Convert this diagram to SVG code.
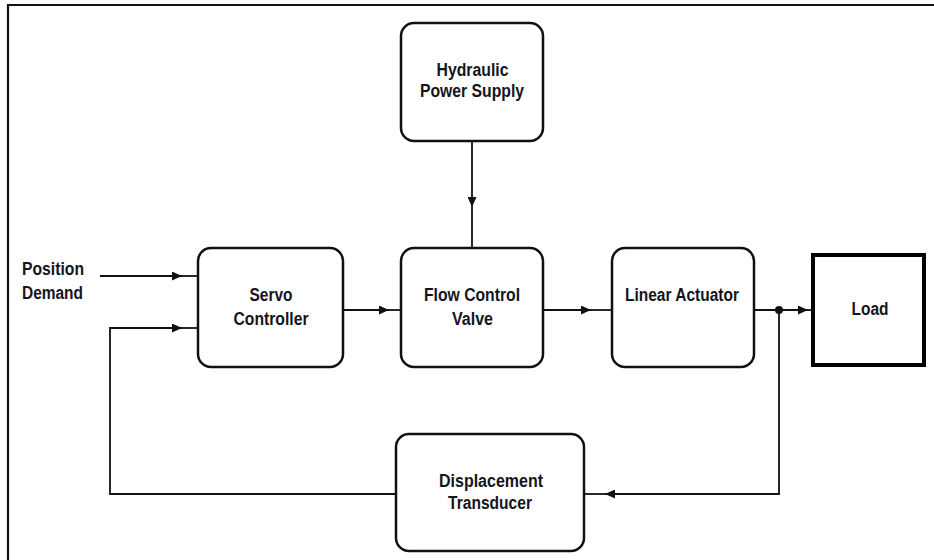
<svg xmlns="http://www.w3.org/2000/svg" width="934" height="560" viewBox="0 0 934 560">
<style>
.box{fill:#fff;stroke:#111;stroke-width:2.5}
.load{fill:#fff;stroke:#000;stroke-width:4}
.ln{fill:none;stroke:#111;stroke-width:1.8}
.t{font-family:"Liberation Sans",Arial,sans-serif;font-size:18px;font-weight:bold;fill:#151520;text-anchor:middle}
.tl{font-family:"Liberation Sans",Arial,sans-serif;font-size:18px;font-weight:bold;fill:#151520}
</style>
<defs>
<marker id="arr" viewBox="0 0 10 10" refX="10" refY="5" markerWidth="10" markerHeight="9" markerUnits="userSpaceOnUse" orient="auto" preserveAspectRatio="none">
<path d="M0,0 L10,5 L0,10 Z" fill="#111"/>
</marker>
</defs>
<rect width="934" height="560" fill="#fff"/>
<path d="M8,560 V5 H934" fill="none" stroke="#111" stroke-width="2.2"/>

<g id="connectors">
<line class="ln" x1="100" y1="276" x2="182" y2="276" marker-end="url(#arr)"/>
<line class="ln" x1="182" y1="276" x2="198" y2="276"/>
<polyline class="ln" points="396,494 110,494 110,328 182,328" marker-end="url(#arr)"/>
<line class="ln" x1="182" y1="328" x2="198" y2="328"/>
<line class="ln" x1="343" y1="310" x2="389" y2="310" marker-end="url(#arr)"/>
<line class="ln" x1="389" y1="310" x2="401" y2="310"/>
<line class="ln" x1="543" y1="310" x2="591" y2="310" marker-end="url(#arr)"/>
<line class="ln" x1="591" y1="310" x2="612" y2="310"/>
<line class="ln" x1="754" y1="310" x2="808" y2="310" marker-end="url(#arr)"/>
<line class="ln" x1="808" y1="310" x2="813" y2="310"/>
<line class="ln" x1="472" y1="141" x2="472" y2="207" marker-end="url(#arr)"/>
<line class="ln" x1="472" y1="207" x2="472" y2="249"/>
<polyline class="ln" points="779,310 779,494 605,494" marker-end="url(#arr)"/>
<line class="ln" x1="605" y1="494" x2="584" y2="494"/>
<circle cx="779" cy="310" r="4" fill="#111"/>
</g>

<g id="position-demand">
<text class="tl" x="22" y="275" textLength="62" lengthAdjust="spacingAndGlyphs">Position</text>
<text class="tl" x="22" y="299" textLength="61" lengthAdjust="spacingAndGlyphs">Demand</text>
</g>

<g id="hydraulic">
<rect class="box" x="401" y="23" width="142" height="118" rx="13"/>
<text class="t" x="472.5" y="76" textLength="72" lengthAdjust="spacingAndGlyphs">Hydraulic</text>
<text class="t" x="472" y="97" textLength="104" lengthAdjust="spacingAndGlyphs">Power Supply</text>
</g>

<g id="servo">
<rect class="box" x="198" y="248" width="145" height="119" rx="13"/>
<text class="t" x="271" y="301" textLength="43" lengthAdjust="spacingAndGlyphs">Servo</text>
<text class="t" x="271" y="325" textLength="75" lengthAdjust="spacingAndGlyphs">Controller</text>
</g>

<g id="flow">
<rect class="box" x="401" y="248" width="142" height="119" rx="13"/>
<text class="t" x="472" y="301" textLength="96" lengthAdjust="spacingAndGlyphs">Flow Control</text>
<text class="t" x="472.5" y="325" textLength="41" lengthAdjust="spacingAndGlyphs">Valve</text>
</g>

<g id="actuator">
<rect class="box" x="612" y="248" width="142" height="119" rx="13"/>
<text class="t" x="682" y="301" textLength="114" lengthAdjust="spacingAndGlyphs">Linear Actuator</text>
</g>

<g id="load">
<rect class="load" x="813" y="255" width="111" height="110"/>
<text class="t" x="870" y="315" textLength="37" lengthAdjust="spacingAndGlyphs">Load</text>
</g>

<g id="transducer">
<rect class="box" x="396" y="434" width="188" height="117" rx="13"/>
<text class="t" x="491" y="487" textLength="104" lengthAdjust="spacingAndGlyphs">Displacement</text>
<text class="t" x="490" y="509" textLength="84" lengthAdjust="spacingAndGlyphs">Transducer</text>
</g>
</svg>
